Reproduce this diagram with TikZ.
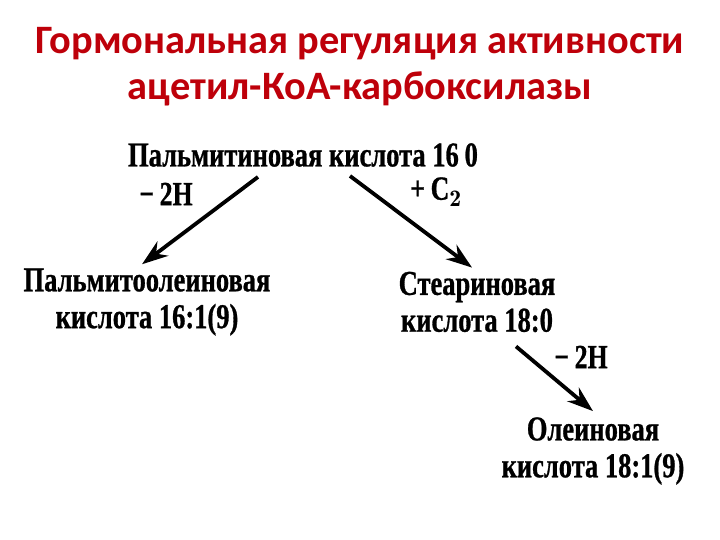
\documentclass[tikz,border=0pt]{standalone}
\usepackage{fontspec}
\usetikzlibrary{arrows.meta}
\newfontfamily\titlefont{Carlito}
\newfontfamily\bodyfont[FakeStretch=0.76,FakeBold=0.8]{Liberation Serif}
\definecolor{titlered}{RGB}{190,0,10}
\tikzset{
  titletext/.style={font=\titlefont\bfseries\fontsize{40.5}{48}\selectfont, text=titlered, inner sep=0pt},
  chem/.style={font=\bodyfont\bfseries\fontsize{35}{37}\selectfont, align=center, inner sep=2bp},
  lbl/.style={font=\bodyfont\bfseries\fontsize{34}{38}\selectfont, inner sep=1bp},
  arr/.style={line width=3.8bp, -{Stealth[length=26bp,width=18bp]}}
}
\begin{document}
\begin{tikzpicture}[x=1bp,y=-1bp]
\useasboundingbox[fill=white] (0,0) rectangle (720,540);
\node[titletext] (t1) at (360,44) {Гормональная регуляция активности};
\node[titletext] (t2) at (360,89) {ацетил-КоА-карбоксилазы};

\node[chem] (top) at (303,155) {Пальмитиновая кислота 16\,0};
\node[chem] (pal) at (147,302) {Пальмитоолеиновая\\кислота 16:1(9)};
\node[chem] (ste) at (477,302) {Стеариновая\\кислота 18:0};
\node[chem] (ole) at (593,451) {Олеиновая\\кислота 18:1(9)};

\node[lbl] (l1) at (166,194) {−\,2Н};
\node[lbl] (l2) at (436,192) {+\,С$_{\mathbf 2}$};
\node[lbl] (l3) at (581,357) {−\,2Н};

\draw[arr] ([shift={(-45,8)}]top.south) -- ([shift={(-5,-2)}]pal.north);
\draw[arr] ([shift={(47,7)}]top.south) -- ([shift={(-5,-2)}]ste.north);
\draw[arr] ([shift={(39,12)}]ste.south) -- ([shift={(0,-4)}]ole.north);
\end{tikzpicture}
\end{document}
